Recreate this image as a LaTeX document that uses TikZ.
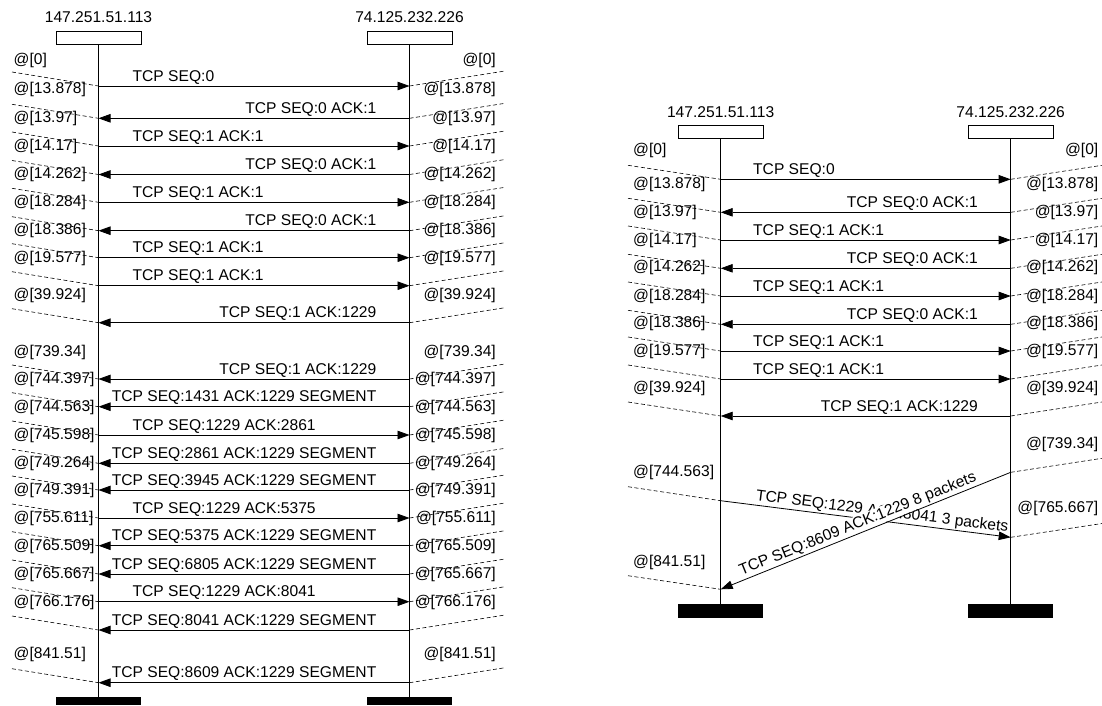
\documentclass[tikz,border=0pt]{standalone}
\usepackage{fontspec}
\setmainfont{Liberation Sans}
\usetikzlibrary{arrows.meta,calc}
\begin{document}
\begin{tikzpicture}[x=1pt,y=-1pt,
  lifeline/.style={line width=0.8pt},
  msg/.style={line width=0.8pt,-{Triangle[length=12pt,width=8.5pt]}},
  tmark/.style={line width=0.6pt,dash pattern=on 4pt off 2.5pt},
  headbox/.style={draw,line width=0.8pt,minimum width=85pt,minimum height=13pt,inner sep=0pt},
  footbar/.style={fill=black,minimum width=85pt,minimum height=13.5pt,inner sep=0pt},
  txt/.style={font=\fontsize{15.6}{18}\selectfont,inner sep=0pt},
]
\useasboundingbox (0,0) rectangle (1102,705);
\fill[white] (0,0) rectangle (1102,705);

%================ LEFT DIAGRAM =================
\node[headbox] (hA) at (98.5,38) {};
\node[headbox] (hB) at (409.5,38) {};
\node[txt] (tA) at (98.5,17.5) {147.251.51.113};
\node[txt] (tB) at (409.5,17.5) {74.125.232.226};
\node[footbar,minimum height=8pt,anchor=north] (fA) at (98.5,697) {};
\node[footbar,minimum height=8pt,anchor=north] (fB) at (409.5,697) {};
\draw[lifeline] (hA.south) -- (fA.north);
\draw[lifeline] (hB.south) -- (fB.north);

% rightward messages
\foreach \y/\t [count=\i] in {86/{TCP SEQ:0},146/{TCP SEQ:1 ACK:1},202.3/{TCP SEQ:1 ACK:1},
  257.7/{TCP SEQ:1 ACK:1},285.7/{TCP SEQ:1 ACK:1},435/{TCP SEQ:1229 ACK:2861},
  518/{TCP SEQ:1229 ACK:5375},601.7/{TCP SEQ:1229 ACK:8041}}{
  \coordinate (rL\i) at (98.5,\y);
  \coordinate (rR\i) at (409.5,\y);
  \coordinate (rLm\i) at (12,\y-14);
  \coordinate (rRm\i) at (505,\y-15);
  \draw[tmark] (rLm\i) -- (rL\i);
  \draw[tmark] (rR\i) -- (rRm\i);
  \draw[msg] (rL\i) -- (rR\i);
  \node[txt,anchor=base west] (rt\i) at (132.5,\y-5) {\t};
}
% leftward messages
\foreach \y/\t [count=\i] in {118.3/{TCP SEQ:0 ACK:1},174.5/{TCP SEQ:0 ACK:1},230.7/{TCP SEQ:0 ACK:1},
  322.7/{TCP SEQ:1 ACK:1229},379/{TCP SEQ:1 ACK:1229},406.7/{TCP SEQ:1431 ACK:1229 SEGMENT},
  463.3/{TCP SEQ:2861 ACK:1229 SEGMENT},490/{TCP SEQ:3945 ACK:1229 SEGMENT},
  545.7/{TCP SEQ:5375 ACK:1229 SEGMENT},574/{TCP SEQ:6805 ACK:1229 SEGMENT},
  630/{TCP SEQ:8041 ACK:1229 SEGMENT},682.7/{TCP SEQ:8609 ACK:1229 SEGMENT}}{
  \coordinate (lL\i) at (98.5,\y);
  \coordinate (lR\i) at (409.5,\y);
  \coordinate (lLm\i) at (12,\y-14);
  \coordinate (lRm\i) at (505,\y-15);
  \draw[tmark] (lLm\i) -- (lL\i);
  \draw[tmark] (lR\i) -- (lRm\i);
  \draw[msg] (lR\i) -- (lL\i);
  \node[txt,anchor=base east] (lt\i) at (376.5,\y-5) {\t};
}
% time labels
\foreach \y/\t [count=\i] in {60/{@[0]},89/{@[13.878]},118/{@[13.97]},146/{@[14.17]},
  174/{@[14.262]},202/{@[18.284]},230/{@[18.386]},258/{@[19.577]},295/{@[39.924]},
  352/{@[739.34]},379/{@[744.397]},407/{@[744.563]},435/{@[745.598]},463/{@[749.264]},
  490/{@[749.391]},518/{@[755.611]},546/{@[765.509]},574/{@[765.667]},602/{@[766.176]},
  654/{@[841.51]}}{
  \node[txt,anchor=west] (tlA\i) at (13.5,\y) {\t};
  \node[txt,anchor=east] (trA\i) at (496,\y) {\t};
}

%================ RIGHT DIAGRAM =================
\node[headbox] (hC) at (720.7,131.5) {};
\node[headbox] (hD) at (1010.7,131.5) {};
\node[txt] (tC) at (720.7,112) {147.251.51.113};
\node[txt] (tD) at (1010.7,112) {74.125.232.226};
\node[footbar,anchor=north] (fC) at (720.7,604) {};
\node[footbar,anchor=north] (fD) at (1010.7,604) {};
\draw[lifeline] (hC.south) -- (fC.north);
\draw[lifeline] (hD.south) -- (fD.north);

\foreach \y/\t [count=\i] in {179.3/{TCP SEQ:0},240/{TCP SEQ:1 ACK:1},296/{TCP SEQ:1 ACK:1},
  351/{TCP SEQ:1 ACK:1},379/{TCP SEQ:1 ACK:1}}{
  \coordinate (sL\i) at (720.7,\y);
  \coordinate (sR\i) at (1010.7,\y);
  \coordinate (sLm\i) at (628,\y-14);
  \coordinate (sRm\i) at (1102,\y-14);
  \draw[tmark] (sLm\i) -- (sL\i);
  \draw[tmark] (sR\i) -- (sRm\i);
  \draw[msg] (sL\i) -- (sR\i);
  \node[txt,anchor=base west] (st\i) at (753,\y-5) {\t};
}
\foreach \y/\t [count=\i] in {212.3/{TCP SEQ:0 ACK:1},268.3/{TCP SEQ:0 ACK:1},
  324.3/{TCP SEQ:0 ACK:1},416/{TCP SEQ:1 ACK:1229}}{
  \coordinate (uL\i) at (720.7,\y);
  \coordinate (uR\i) at (1010.7,\y);
  \coordinate (uLm\i) at (628,\y-14);
  \coordinate (uRm\i) at (1102,\y-14);
  \draw[tmark] (uLm\i) -- (uL\i);
  \draw[tmark] (uR\i) -- (uRm\i);
  \draw[msg] (uR\i) -- (uL\i);
  \node[txt,anchor=base east] (ut\i) at (978,\y-5) {\t};
}
\foreach \y/\t [count=\i] in {150/{@[0]},184/{@[13.878]},212/{@[13.97]},240/{@[14.17]},
  267/{@[14.262]},296/{@[18.284]},323/{@[18.386]},351/{@[19.577]},388/{@[39.924]}}{
  \node[txt,anchor=west] (tlC\i) at (633,\y) {\t};
  \node[txt,anchor=east] (trC\i) at (1098.5,\y) {\t};
}
\node[txt,anchor=west] (tlX1) at (633,472) {@[744.563]};
\node[txt,anchor=west] (tlX2) at (633,562) {@[841.51]};
\node[txt,anchor=east] (trX1) at (1098.5,444) {@[739.34]};
\node[txt,anchor=east] (trX2) at (1098.5,508) {@[765.667]};

% crossing messages
\coordinate (xA1) at (720.7,500.7);
\coordinate (xA2) at (1010.7,537.3);
\coordinate (xB1) at (1010.7,472.3);
\coordinate (xB2) at (720.7,589.3);
\coordinate (mA1) at (628,486.7);
\coordinate (mA2) at (1102,523.5);
\coordinate (mB1) at (1102,458.3);
\coordinate (mB2) at (628,575.7);
\draw[tmark] (mA1) -- (xA1);
\draw[tmark] (xA2) -- (mA2);
\draw[tmark] (xB1) -- (mB1);
\draw[tmark] (mB2) -- (xB2);

\draw[msg] (xA1) -- (xA2);
\coordinate (pA) at ($(xA1)!34.3pt!(xA2)$);
\coordinate (qA) at ($(pA)!5pt!90:(xA2)$);
\node[txt,rotate=-7.19,anchor=base west] (lA) at (qA) {TCP SEQ:1229 ACK:8041 3 packets};

\coordinate (pB) at ($(xB1)!33pt!(xB2)$);
\coordinate (qB) at ($(pB)!5pt!-90:(xB2)$);
\node[txt,rotate=21.97,anchor=base east,fill=white,inner sep=1pt] (lB) at (qB) {TCP SEQ:8609 ACK:1229 8 packets};
\draw[msg] (xB1) -- (xB2);
\end{tikzpicture}
\end{document}
